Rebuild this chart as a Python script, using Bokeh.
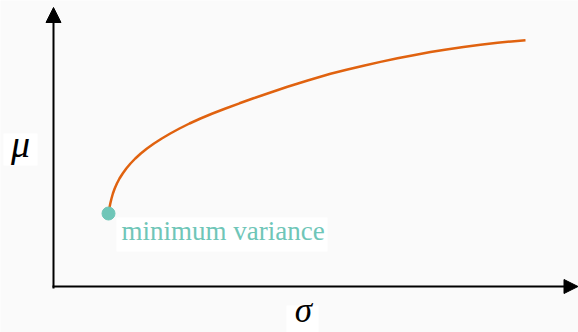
from bokeh.plotting import figure
from bokeh.models import Arrow, NormalHead, Label, Range1d, BoxAnnotation
from bokeh.embed import file_html
from bokeh.resources import INLINE

# Efficient frontier (sigma = risk, mu = return)
sigma = [1.100, 1.116, 1.136, 1.160, 1.188, 1.224, 1.268, 1.320, 1.384, 1.456,
         1.540, 1.636, 1.746, 1.870, 2.010, 2.166, 2.336, 2.520, 2.720, 2.940,
         3.180, 3.440, 3.720, 4.000, 4.340, 4.680, 5.100, 5.540, 5.860, 6.200,
         6.540, 6.880, 7.200, 7.540, 7.860, 8.200, 8.540, 8.880, 9.160, 9.440]
mu = [1.460, 1.560, 1.660, 1.760, 1.860, 1.960, 2.060, 2.160, 2.260, 2.360,
      2.460, 2.560, 2.660, 2.760, 2.860, 2.960, 3.060, 3.160, 3.260, 3.360,
      3.460, 3.560, 3.664, 3.764, 3.880, 3.994, 4.124, 4.254, 4.334, 4.416,
      4.492, 4.564, 4.626, 4.688, 4.742, 4.792, 4.836, 4.874, 4.902, 4.926]
min_var_sigma = [1.10]
min_var_mu = [1.46]
point_label = "minimum variance"
x_label = "σ"
y_label = "μ"

BG = "#fafafa"
ORANGE = "#e0620f"
TEAL = "#6fc6b8"
SERIF = "Liberation Serif"

p = figure(width=578, height=332, output_backend="svg", toolbar_location=None,
           x_range=Range1d(-1.06, 10.50), y_range=Range1d(-0.92, 5.72),
           min_border=0, background_fill_color=BG, border_fill_color=BG,
           outline_line_color=None)
p.axis.visible = False
p.grid.visible = False

# axes with arrow heads
p.add_layout(Arrow(x_start=0, y_start=-0.04, x_end=0, y_end=5.58,
                   line_color="black", line_width=2,
                   end=NormalHead(size=15, fill_color="black", line_color="black")))
p.add_layout(Arrow(x_start=-0.02, y_start=0, x_end=10.49, y_end=0,
                   line_color="black", line_width=2,
                   end=NormalHead(size=14, fill_color="black", line_color="black")))

p.line(sigma, mu, line_color=ORANGE, line_width=2.5)
p.scatter(min_var_sigma, min_var_mu, size=13, fill_color=TEAL, line_color=TEAL)

# white label boxes
for l, r, b, t in [(1.26, 5.48, 0.70, 1.38),     # minimum variance
                   (-1.00, -0.32, 2.42, 3.06),   # mu
                   (4.66, 5.30, -0.95, -0.38)]:  # sigma
    p.add_layout(BoxAnnotation(left=l, right=r, bottom=b, top=t,
                               fill_color="white", fill_alpha=1.0,
                               line_color=None))

p.add_layout(Label(x=1.36, y=1.12, text=point_label, text_color=TEAL,
                   text_font=SERIF, text_font_size="27px",
                   text_baseline="alphabetic"))
p.add_layout(Label(x=-0.66, y=2.86, text=y_label, text_font=SERIF,
                   text_font_style="italic", text_font_size="38px",
                   text_color="black", text_align="center",
                   text_baseline="alphabetic"))
p.add_layout(Label(x=5.00, y=-0.47, text=x_label, text_font=SERIF,
                   text_font_style="italic", text_font_size="35px",
                   text_color="black", text_align="center",
                   text_baseline="alphabetic"))

open("out.html", "w").write(file_html(p, INLINE))
